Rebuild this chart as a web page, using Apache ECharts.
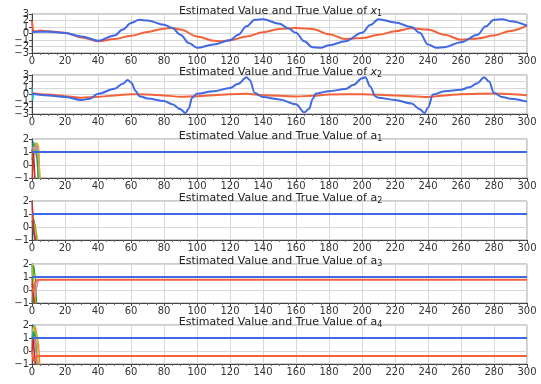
<!DOCTYPE html>
<html>
<head>
<meta charset="utf-8">
<script src="https://cdn.jsdelivr.net/npm/echarts@6/dist/echarts.min.js"></script>
<style>
  html, body { margin: 0; padding: 0; background: #fff; }
  #chart { width: 541px; height: 384px; }
</style>
</head>
<body>
<div id="chart"></div>
<script>
// ---- data ----
const xTicks = [0, 20, 40, 60, 80, 100, 120, 140, 160, 180, 200, 220, 240, 260, 280, 300];
// y labels for the x-panels are split in two sets so none gets dropped
const yLabelsOdd  = [-3, -1, 1, 3];
const yLabelsEven = [-2, 0, 2];
const yTicksA = [-1, 0, 1, 2];

// x1
const x1BlueT = [0,5,10,20,30,40,50,55,60,65,70,80,85,90,95,100,110,120,125,130,135,140,150,155,160,165,170,175,180,190,200,205,210,220,230,235,240,245,250,260,270,275,280,285,290,300];
const x1Blue  = [0.23,0.28,0.28,0.08,-0.45,-1.1,-0.3,0.6,1.6,2.1,2.0,1.35,0.85,-0.2,-1.45,-2.2,-1.7,-1.05,-0.2,1.1,2.1,2.2,1.5,0.85,0.1,-1.2,-2.1,-2.2,-1.8,-1.2,0.1,1.3,2.2,1.7,1.0,0.1,-1.7,-2.2,-2.1,-1.35,-0.2,1.1,2.1,2.2,1.9,1.2];
const x1RedT  = [0,1,5,10,20,30,40,50,60,70,80,85,90,100,110,115,120,130,140,150,160,170,180,190,200,210,220,230,240,250,260,270,280,290,300];
const x1Red   = [1.9,0.3,0.45,0.35,0.1,-0.6,-1.2,-0.85,-0.35,0.25,0.75,0.85,0.6,-0.45,-1.1,-1.2,-1.05,-0.45,0.2,0.7,0.85,0.7,-0.1,-0.85,-0.7,-0.2,0.33,0.8,0.6,-0.2,-0.95,-0.75,-0.3,0.4,1.2];

// x2
const x2BlueT = [0,10,20,30,35,40,50,55,58,60,63,65,70,80,85,90,93,95,97,100,110,120,125,130,132,135,140,150,160,165,168,170,172,180,190,195,200,202,205,208,210,220,230,235,238,240,243,250,260,265,270,274,277,280,285,290,300];
const x2Blue  = [0.1,-0.15,-0.4,-0.85,-0.65,0.1,0.9,1.65,2.25,1.85,0.5,-0.25,-0.6,-1.0,-1.5,-2.25,-2.85,-2.15,-0.5,0.1,0.5,1.0,1.65,2.65,2.25,0.25,-0.4,-0.75,-1.5,-2.75,-2.2,-0.75,0.15,0.5,0.85,1.5,2.5,2.65,1.25,-0.25,-0.5,-0.85,-1.4,-2.25,-2.85,-2.0,0,0.5,0.75,1.1,1.75,2.65,2.0,0.25,-0.4,-0.65,-1.1];
const x2RedT  = [0,10,20,30,40,50,60,70,80,90,100,110,120,130,140,160,170,180,200,220,240,250,260,280,300];
const x2Red   = [0.25,0,-0.25,-0.5,-0.35,-0.15,0.05,0,-0.15,-0.35,-0.25,-0.1,0.05,0.1,-0.1,-0.3,-0.2,0,0.05,-0.15,-0.4,-0.15,0.05,0.15,-0.1];
const x2TrT   = [0, 0.5, 1];
const x2Tr    = [1.2, -0.9, 0.2];

// a1..a4 (blue / red settle values, early transient)
const aT = [0, 1, 2, 3, 4, 5, 300];
const a1Blue = [1, 1, 1, 1, 1, 1, 1];
const a1Red  = [1, 1, 1, 1, 1, 1, 1];
const a2Blue = [1, 1, 1, 1, 1, 1, 1];
const a2Red  = [1, 1, 1, 1, 1, 1, 1];
const a3Blue = [1, 1, 1, 1, 1, 1, 1];
const a3Red  = [-0.2, 0.1, 0.5, 0.78, 0.78, 0.78, 0.78];
const a4Blue = [1, 1, 1, 1, 1, 1, 1];
const a4Red  = [0, -0.8, -0.6, -0.38, -0.38, -0.38, -0.38];

// transient traces over t = 0..5
const trT = [0, 1, 2, 3, 4, 5];
const trColors = ['#17becf', '#ff7f0e', '#2ca02c', '#e377c2', '#bcbd22', '#8c564b', '#d62728'];
const a1Tr = [
  [1.0, 1.8, 1.7, 1.0, -1.5, null],
  [-1.5, 0.8, 1.7, 1.7, 1.2, -1.5],
  [0.4, 1.6, 1.7, 0.5, -1.5, null],
  [1.0, 1.4, 1.2, 1.6, 0.2, -1.5],
  [0.6, 1.0, 1.5, 1.7, 1.5, -1.5],
  [1.2, 0.2, -1.5, null, null, null],
  [-1.5, 1.0, -1.5, null, null, null]
];
const a2Tr = [
  [2.2, -0.5, -1.5, null, null, null],
  [1.5, 0.5, -0.8, -1.5, null, null],
  [0.8, 0.6, 0.1, -0.9, -1.5, null],
  [1.8, 0.2, -0.6, -1.5, null, null],
  [1.0, 0.4, 0.3, -0.6, -1.5, null],
  [0.5, -0.3, -0.9, -1.5, null, null],
  [2.2, 0.0, -1.5, null, null, null]
];
const a3Tr = [
  [2.2, -1.5, null, null, null, null],
  [1.5, 0.8, -0.6, -1.5, null, null],
  [-1.5, 1.9, 1.0, -1.5, null, null],
  [0.5, -0.9, -1.0, 0.2, 0.8, 0.8],
  [2.2, 0.3, -1.5, null, null, null],
  [1.0, -0.5, -1.5, null, null, null],
  [0.5, -0.8, -1.5, null, null, null]
];
const a4Tr = [
  [1.0, 2.0, 1.8, -1.5, null, null],
  [0.5, 1.0, 1.9, 1.9, 0.5, -1.5],
  [0.2, 1.5, 1.0, -0.8, -1.5, null],
  [0.0, 0.5, 0.9, -0.9, -1.5, null],
  [1.5, 1.9, 1.4, 1.2, -1.5, null],
  [0.8, 0.2, -0.9, -1.5, null, null],
  [0.0, 1.0, -1.5, null, null, null]
];

// ---- layout ----
const TOPS = [14, 75, 139, 201, 264, 325];
const H = 39;
const LEFT = 32, RIGHT = 14;
const BLUE = '#4169e1', RED = '#f4623a';

const zip = (t, v) => t.map((x, i) => [x, v[i]]);

const panels = [
  { sym: 'x', sub: '1', italic: true,  min: -3, max: 3, ticks: yLabelsOdd, extra: yLabelsEven, lines: [[x1RedT, x1Red], [x1BlueT, x1Blue]], tr: [] },
  { sym: 'x', sub: '2', italic: true,  min: -3, max: 3, ticks: yLabelsOdd, extra: yLabelsEven, lines: [[x2RedT, x2Red], [x2BlueT, x2Blue]], tr: [x2Tr] },
  { sym: 'a', sub: '1', italic: false, min: -1, max: 2, ticks: yTicksA, lines: [[aT, a1Red], [aT, a1Blue]], tr: a1Tr },
  { sym: 'a', sub: '2', italic: false, min: -1, max: 2, ticks: yTicksA, lines: [[aT, a2Red], [aT, a2Blue]], tr: a2Tr },
  { sym: 'a', sub: '3', italic: false, min: -1, max: 2, ticks: yTicksA, lines: [[aT, a3Red], [aT, a3Blue]], tr: a3Tr },
  { sym: 'a', sub: '4', italic: false, min: -1, max: 2, ticks: yTicksA, lines: [[aT, a4Red], [aT, a4Blue]], tr: a4Tr },
];

const FONT = 'DejaVu Sans';
const fmtY = v => (v < 0 ? '\u2212' + Math.abs(v) : String(v));
const grid = [], xAxis = [], yAxis = [], title = [], series = [];
const extraY = [];

panels.forEach((p, i) => {
  grid.push({ left: LEFT, right: RIGHT, top: TOPS[i], height: H, show: true, borderColor: '#9a9a9a', borderWidth: 1 });
  title.push({
    text: '{n|Estimated Value and True Value of }{' + (p.italic ? 'i' : 'n') + '|' + p.sym + '}{s|' + p.sub + '}',
    left: LEFT + 495 / 2 - 4, top: TOPS[i] - 14, textAlign: 'center',
    textStyle: {
      fontWeight: 'normal',
      rich: {
        n: { fontFamily: FONT, fontSize: 11, color: '#222', fontWeight: 'normal' },
        i: { fontFamily: FONT, fontSize: 11, color: '#222', fontWeight: 'normal', fontStyle: 'italic' },
        s: { fontFamily: FONT, fontSize: 8, color: '#222', fontWeight: 'normal', padding: [5, 0, 0, 0] }
      }
    }
  });
  xAxis.push({
    type: 'value', gridIndex: i, min: 0, max: 300, interval: 20,
    axisLine: { onZero: false, lineStyle: { color: '#444' } },
    axisTick: { show: true, length: 3, lineStyle: { color: '#444' } },
    minorTick: { show: true, splitNumber: 4, length: 2, lineStyle: { color: '#666' } },
    axisLabel: { fontFamily: FONT, fontSize: 10, color: '#333', margin: 3, hideOverlap: false },
    splitLine: { show: true, lineStyle: { color: '#d8d8d8' } }
  });
  yAxis.push({
    type: 'value', gridIndex: i, position: 'left', min: p.min, max: p.max, interval: 1,
    axisLine: { show: true, onZero: false, lineStyle: { color: '#444' } },
    axisTick: { show: true, length: 3, lineStyle: { color: '#444' } },
    axisLabel: { fontFamily: FONT, fontSize: 10, color: '#333', margin: 3,
      hideOverlap: false, customValues: p.ticks, formatter: fmtY },
    splitLine: { show: true, lineStyle: { color: '#d8d8d8' } }
  });
  if (p.extra) {
    extraY.push({
      type: 'value', gridIndex: i, position: 'left', offset: 0, min: p.min, max: p.max, interval: 1,
      axisLine: { show: false, onZero: false },
      axisTick: { show: false },
      axisLabel: { fontFamily: FONT, fontSize: 10, color: '#333', margin: 3,
        hideOverlap: false, customValues: p.extra, formatter: fmtY },
      splitLine: { show: false }
    });
  }

  // early transient traces
  if (i === 1) {
    series.push({ type: 'line', xAxisIndex: i, yAxisIndex: i, data: zip(x2TrT, p.tr[0]), symbol: 'none',
      lineStyle: { width: 1.2, color: '#17becf' } });
  } else {
    p.tr.forEach((vals, k) => {
      series.push({ type: 'line', xAxisIndex: i, yAxisIndex: i, data: zip(trT, vals), symbol: 'none',
        connectNulls: false, lineStyle: { width: 1.2, color: trColors[k % trColors.length] } });
    });
  }

  // red then blue on top
  [RED, BLUE].forEach((c, k) => {
    const [t, v] = p.lines[k];
    series.push({ type: 'line', xAxisIndex: i, yAxisIndex: i, data: zip(t, v), symbol: 'none',
      smooth: i < 2 ? 0.35 : false, smoothMonotone: 'x', z: 5 + k,
      lineStyle: { width: 2, color: c } });
  });
});

const chart = echarts.init(document.getElementById('chart'), null, { renderer: 'canvas' });
chart.setOption({ animation: false, title, grid, xAxis, yAxis: yAxis.concat(extraY), series });
</script>
</body>
</html>
